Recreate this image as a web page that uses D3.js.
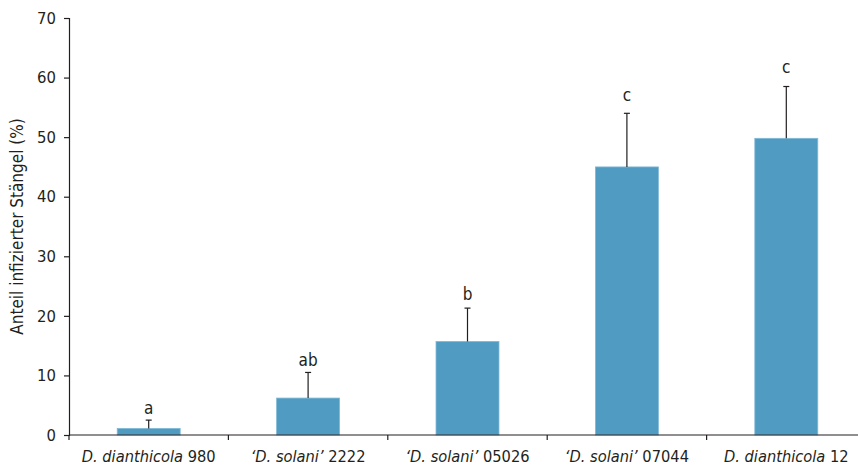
<!DOCTYPE html>
<html>
<head>
<meta charset="utf-8">
<script src="https://cdn.jsdelivr.net/npm/d3@7"></script>
<style>
  body { margin: 0; background: #fff; }
  text { font-family: "Liberation Sans Narrow", "DejaVu Sans Condensed", "Roboto", sans-serif; fill: #231f20; }
</style>
</head>
<body>
<div id="chart"></div>
<script>
// data
const strains = ["D. dianthicola 980", "'D. solani' 2222", "'D. solani' 05026", "'D. solani' 07044", "D. dianthicola 12"];
const labelParts = [
    [["D. dianthicola", true], [" 980", false]],
    [["\u2018D. solani\u2019", true], [" 2222", false]],
    [["\u2018D. solani\u2019", true], [" 05026", false]],
    [["\u2018D. solani\u2019", true], [" 07044", false]],
    [["D. dianthicola", true], [" 12", false]]
];
const infected = [1.1, 6.2, 15.7, 45.0, 49.8];
const errUpper = [2.5, 10.5, 21.3, 54.0, 58.5];
const letters = ["a", "ab", "b", "c", "c"];
const letterAt = [3.5, 11.5, 22.7, 56.0, 60.7];   // baseline of the letters, in %
const yTicks = [0, 10, 20, 30, 40, 50, 60, 70];

const width = 858, height = 467;
const margin = {left: 69, top: 18, bottom: 32};

const svg = d3.select("#chart")
    .append("svg")
    .attr("width", width)
    .attr("height", height);

const x = d3.scaleBand()
    .domain(strains)
    .range([margin.left, 866])
    .padding(0);

const y = d3.scaleLinear()
    .domain([0, 70])
    .range([height - margin.bottom, margin.top]);

const barW = x.bandwidth() * 0.395;
const cx = d => x(d) + x.bandwidth() / 2;

// bars
svg.selectAll(".bar")
    .data(strains)
    .enter().append("rect")
    .attr("class", "bar")
    .attr("x", d => cx(d) - barW / 2)
    .attr("width", barW)
    .attr("y", (d, i) => y(infected[i]))
    .attr("height", (d, i) => y(0) - y(infected[i]))
    .attr("fill", "#4f9bc2")
    .attr("stroke", "#7fb8d6")
    .attr("stroke-width", 0.8);

// error bars (upper only)
svg.selectAll(".err")
    .data(strains)
    .enter().append("line")
    .attr("x1", cx).attr("x2", cx)
    .attr("y1", (d, i) => y(infected[i]))
    .attr("y2", (d, i) => y(errUpper[i]))
    .attr("stroke", "#231f20")
    .attr("stroke-width", 1.2);

svg.selectAll(".cap")
    .data(strains)
    .enter().append("line")
    .attr("x1", d => cx(d) - 3).attr("x2", d => cx(d) + 3)
    .attr("y1", (d, i) => y(errUpper[i]))
    .attr("y2", (d, i) => y(errUpper[i]))
    .attr("stroke", "#231f20")
    .attr("stroke-width", 1.2);

// significance letters
svg.selectAll(".letter")
    .data(strains)
    .enter().append("text")
    .attr("x", cx)
    .attr("y", (d, i) => y(letterAt[i]))
    .attr("text-anchor", "middle")
    .style("font-size", "17px")
    .text((d, i) => letters[i]);

// y axis
const yAxis = svg.append("g")
    .attr("transform", `translate(${margin.left},0)`)
    .call(d3.axisLeft(y).tickValues(yTicks).tickSize(5).tickPadding(8));
yAxis.select(".domain").attr("stroke", "#231f20").attr("stroke-width", 1.2);
yAxis.selectAll(".tick line").attr("stroke", "#231f20").attr("stroke-width", 1.2);
yAxis.selectAll(".tick text").style("font-size", "16.5px").attr("fill", "#231f20");

// x axis: ticks between categories
const xAxis = svg.append("g")
    .attr("transform", `translate(0,${y(0)})`);
xAxis.append("line")
    .attr("x1", margin.left).attr("x2", 866)
    .attr("stroke", "#231f20").attr("stroke-width", 1.2);
const bounds = strains.map(d => x(d)).concat([x(strains[strains.length - 1]) + x.bandwidth()]);
xAxis.selectAll(".xt")
    .data(bounds)
    .enter().append("line")
    .attr("x1", d => d).attr("x2", d => d)
    .attr("y1", 0).attr("y2", 5)
    .attr("stroke", "#231f20").attr("stroke-width", 1.2);

const xl = xAxis.selectAll(".xl")
    .data(strains)
    .enter().append("text")
    .attr("x", cx)
    .attr("y", 27)
    .attr("text-anchor", "middle")
    .style("font-size", "16.3px");
xl.each(function(d, i) {
    const t = d3.select(this);
    labelParts[i].forEach(p => {
        t.append("tspan")
            .style("font-style", p[1] ? "italic" : "normal")
            .text(p[0]);
    });
});

// y axis title
svg.append("text")
    .attr("transform", "rotate(-90)")
    .attr("x", -y(35))
    .attr("y", 23)
    .attr("text-anchor", "middle")
    .style("font-size", "17px")
    .text("Anteil infizierter Stängel (%)");
</script>
</body>
</html>
